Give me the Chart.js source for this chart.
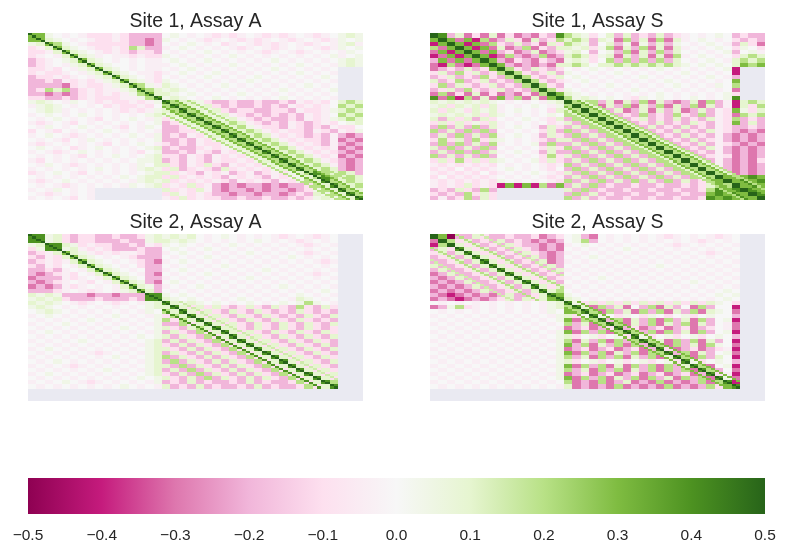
<!DOCTYPE html>
<html>
<head>
<meta charset="utf-8">
<script src="https://cdn.jsdelivr.net/npm/chart.js@4.4.0/dist/chart.umd.min.js"></script>
<style>
  body { margin: 0; background: #fff; width: 788px; height: 554px; overflow: hidden; position: relative; }
  canvas { position: absolute; }
</style>
</head>
<body>
<canvas id="p0" width="335" height="190" style="left:28px;top:10px"></canvas>
<canvas id="p1" width="335" height="190" style="left:430px;top:10px"></canvas>
<canvas id="p2" width="335" height="190" style="left:28px;top:211px"></canvas>
<canvas id="p3" width="335" height="190" style="left:430px;top:211px"></canvas>
<canvas id="cbar" width="788" height="76" style="left:0;top:478px"></canvas>
<script>
// correlation levels, one char per 2x2 block of variables
// e..a = -0.5..-0.1, '-' faint pink, '0' white, '+' faint green, 1..5 = 0.1..0.5, '.' = missing
const levels = { e: -0.5, d: -0.4, c: -0.3, b: -0.2, a: -0.1, '-': -0.04, '0': 0, '+': 0.04,
  '1': 0.1, '2': 0.2, '3': 0.3, '4': 0.4, '5': 0.5 };

const titles = ['Site 1, Assay A', 'Site 1, Assay S', 'Site 2, Assay A', 'Site 2, Assay S'];
const nVars = 80;

const site1AssayA = [
  "33+0-0-aaa-abbbb" + "0+0-0-a-a-0-a-a-0-a-0+1+",
  "331+0-0-aa-abbcb" + "+0-0-a-0-a-a-0-a-0-a-+0+",
  "+132+0-aaaaabbcb" + "0-0+0-0a-0-a-a-0-a-0-+1-",
  "a-131+0-aa-a21bb" + "-0+0-0-0-a-0-a-0-0-a-+0+",
  "aa-131+0-a-abaab" + "0-0-0+0-0-0-a-0-a-0-0-+0",
  "a-0-131+-0--a-aa" + "+0-0-0-0+0-0-0-0-0-0+-0+",
  "ba-0+131+0-0-0--" + "0+0-0+0-0-0-0+0-0-0-0+1+",
  "ba-0-+131+00-0--" + "-0+0-0-0+0-0-0-0+0-0-+1+",
  "aa-a0-+131+0-0--" + "0-0+0-0-0-0-0+0-0-0-0...",
  "a-aa-0-+131+0--a" + "-0+0-0+0-0-0-0-0+0-0-...",
  "baa-a-0-+131+0-a" + "0-0-0+0-0-0+0-0-0-0+0...",
  "bbab-a-a-+131+-a" + "+0-0-0-0-0+0-0-0-0-0-...",
  "bbbbca-aa-+132+-" + "1+0-0-0+0-0-0-0-0+0-0...",
  "ba212ba-a--+1321" + "+1+0-0-0-0-0-0+0-0-0+...",
  "bbcbcba-a-a-+231" + "1+0+0-0-0+0-0-0-0-0-0...",
  "aabbaba-aaa--+24" + "+1+0-0+0-0-0-0+0-0-0-...",
  "+1+0-+0-a-aa-a-+" + "4211+abbabbabbab-a-a0121",
  "-+1+0-0-0a-aa-a0" + "2421+1ababbabab-a-a-0212",
  "0+1+-0-0-0-a-a-+" + "12421+1abaabbaab-aa-+121",
  "-0+0-0+0-0-0-0+1" + "+12421+1-abababab-a-0212",
  "0-0+0-0-a0-0+0-+" + "a+12421+1-ababbab-a-+121",
  "-a-0-a0-0-0-0-0+" + "ba+1242121-abab-aba-a0+1",
  "0-+0-0+0-0-a0-+0" + "bba+124212+-aab-abab-aa0",
  "a0-a0-0-0+0-0-0-" + "bbaa+1242121-a-aab-ab-a+",
  "-0+0-a-0-0-0+0-+" + "bab-a+1242121-a-abab-bcb",
  "0-0-a0-+0-0-0-0+" + "bbab-a+1242121-a-aab-cbc",
  "-a-0-0-0-a0-0+0-" + "abab-aa+1242121-a-ab-bcb",
  "0+0-0a-0+0-0-0+1" + "babba-a-+1242121-a-a-cbc",
  "-0-a-0+0-0-0-a0+" + "bbab-ab-a+1242121-a-abcb",
  "0-0-0-a0-0+0-0+1" + "aab-ab-a-a+1242121-a-cbc",
  "-a0-0-0-0-0-0++1" + "bab-ab-aa-a+1242121-abcb",
  "0-+0-a-0-0-0-+01" + "1ab-a1ab-a-a+1242121-bcb",
  "-0-0-0-0+0-0-+1+" + "a1ba-ab1a-a-a+1242121bcb",
  "a-0+0-a0-0-0-0+1" + "1a-ab-a-ba-ba-a+1242121b",
  "0-0-0-0-0-0+0+11" + "a1a-a-ab-a-ab-a-+1242121",
  "-a-0+0-0-0-0-+1+" + "1a-a-a-ab-a-ab-a+2142121",
  "0-0-a-0-0-0-+0+1" + "a-a1a-bcbcbbcbcbba214212",
  "-0-+0-0-........" + "1a-a1-bcbbcbcbbcba+21421",
  "0-a-0-0-........" + "a1-a-abbcbbcbbcbab1+2142",
  "-0-0-a0-........" + "-a1a-aabbabbabbaba+1+214"
];

const site1AssayS = [
  "54b1cac1cacbcab4" + "21+a01b1bab1ba-0-0+0babb",
  "353c3d2cb1ac1ba2" + "121b1+c2b1c2c1-0+0-0abab",
  "d353d3c2ab1bac1a" + "21+b01b+c+b1b+0-0+0-b1ac",
  "2c353d3c1cb2cab1" + "1+1a+2c1b2c1c1-0-0+0a+0a",
  "c3d353c3bacb1cba" + "+10b0+b2c1b2b10-0-0+b0+-",
  "dc3d353dc2bcb2cb" + "121a+1c1b1c1c2-0+0-0a121",
  "b3c3c353bcabcabc" + "+1+a02b2b2b2b10-0+0-1212",
  "cd2cdc353bcbcbc1" + "12101121212121+0+0+01323",
  "cbab1ba352ab1aba" + "0-0+0-0-0-0+0-0-0-0+d...",
  "a1b2a1ba252aba1b" + "+0-0-0+0-0-0-0+0-0-0d...",
  "ba1bab2ab252aba1" + "0+0-0-0-0+0-0-0-0+0-b...",
  "1ba2ba1bab252aba" + "-0+0-0-0-0-0+0-0-0-03...",
  "a2b1aba1bab252ab" + "0-0-0+0-0-0-0+0-0-+02...",
  "ba1b2aba1bab252a" + "+0-0-0-0+0-0-0-0-0-0c...",
  "c2cac1cacbcac253" + "1+0-0-0-0-0+0-0-0-0+a...",
  "4c3d2c1c3b2c1c35" + "2+1+0+0-a+0+0-0+0-0+4...",
  "1+1+1+1+0-0-0-+1" + "5212b1c1b2c1bcb1c2b-d121",
  "+1a1+1a1-0-0+0-+" + "2521c1b2c1b2c1b2c1b-d1a2",
  "1a1+a1+1-0+0-0a1" + "12521b1cb1c1b1cb1b-a3+a1",
  "+1+1+1a1+0-0-0+0" + "212521bab2bab2ab2b-ac212",
  "1b1a1b1a0-0+0-a1" + "b212521ba1bab1bab1-a2bab",
  "a1a1a+a1-0-0-0a-" + "1b212521bab1bab1ab-a3b1b",
  "b2b1b2b1-0+0-b1a" + "b1b212521b1bab1bab-abbab",
  "2b1b2b2b0-0-0a1b" + "2b1b212521bab1bab1-abcbc",
  "b1b2b1b2-0+0-b1a" + "b2b1b212521bab1bab-bcbcb",
  "a2a1b2a1+0-0-ab1" + "1b2b1b212521bab1ba-bcbcb",
  "b2b2b1b2-0-0+b2b" + "b1b2b1b212521bab1b-abcbc",
  "1b2b1b2b0-0-0a1a" + "2b1b2b1b212521bab1-bcbcb",
  "b1b2b2b1-0+0-b1b" + "b2b1b2b1b212521bab-bcbcb",
  "2b1b1b2b0-0-0a2a" + "1b2b1b2b1b212521ba-acbcb",
  "a1a2a1a1+0-0+a1a" + "b1b2b1b2b1b212521b-bcbca",
  "-a-a-a-a0-0-0-a-" + "2b1b2b1b2b1b212521-bcbcb",
  "a-a0a-a-0+0-0-a0" + "b2b1b2b1b2b1b212521bcbcb",
  "-a-a-a0a-0-0+0-a" + "1b2b1b2b1b2b1b212521cbcb",
  "a0a-a-a-0-0-0-a-" + "b1b2b1b2b1b2b1b212532343",
  "-a-a-a-a+0-0-0-a" + "2b1b2b1b2b1b2b1ba2353434",
  "-a-a1a-ad3d3d2c3" + "b1b2babbabbabbaba1325343",
  "bab1ab2b........" + "1b2babbabbabbabba2434543",
  "abab2a1a........" + "b2b1babbabbabbabb3434354",
  "b-ba2b1a........" + "2b1babbabbabbabba4343435"
];

const site2AssayA = [
  "44+1abaabbabba+1" + "+1+10-0+0-0-0-a-0-a-0...",
  "44+1abaabbbabb+1" + "1+1+0-0-0-0+0-0-a-0-0...",
  "+1441+a-aabbab-a" + "+0+0-0-0+0-0-0-0-a-0-...",
  "a+44+1-a-abbbabb" + "0+0-0+0-0-0-0-0-0-0-0...",
  "ba-131+-a-a--abb" + "-0+0-0-0-0+0-0-0-a-0-...",
  "ab-a131+0-0-abbb" + "0-0-0+0-0-0-0-0+0-0-0...",
  "ba-a-131+0-0-abc" + "-0+0-0-0-0-0-0-0-0-a-...",
  "ab-a0-131+0-0abb" + "0-0-0-0+0-0-0-0-0-0-0...",
  "bbab-0-131+0-0bb" + "-0+0-0-0-0-0+0-0-0-0-...",
  "bcba-a0-131+0-bc" + "0-0-0+0-0-0-0-0-0-a-0...",
  "cbbb-a-0-131+0bb" + "-0-0-0-0-0+0-0-0-0-0-...",
  "bcba-0-a0-131+bc" + "0+0-0-0-0-0-0-0-0-0-0...",
  "cbcb-a-0-0-131+b" + "-0-0+0-0-0-0-0+0-0-0-...",
  "bbba-0-a-0-+131b" + "0-0-0-0-0-0-0-0-0-0+0...",
  "1+1+bbbcbbcbbb44" + "+0+0-0-0-0-0-0-0+0-0-...",
  "+1+1abbbabbbab44" + "1+0+0-0-0+0-0-0-1+0-0...",
  "1+1+0-a-0-a-0-+1" + "41+1+0+0-0+0-0+0+2+0-...",
  "+1+0-0-0-0-0-0+1" + "141a1a1aba1ab1ab2ab1a...",
  "0+1+0-0-0-0-0-+0" + "2141a1ab1ab1abab1abab...",
  "-0+0-0-0-0+0-0-+" + "a2141a1ab1ab1abab1ab1...",
  "0-0-0-0+0-0-0-0+" + "2a2141a1ab1ab1ab1abab...",
  "-0-0+0-0-0-0-0-+" + "bb2a141a1ab1ab1ab1ab1...",
  "0-0-0-0-0-0+0-0+" + "1ab121411ab1ab1ab1aba...",
  "-0+0-0-0-0-0-0-+" + "b1ab2a141a1ab1ab1ab1a...",
  "0-0-0-0-0-0-0+0+" + "1b1ab2a141a1ab1ab1ab1...",
  "-0-0-0+0-0-0-0+1" + "b1b1ab2a141a1ab1ab1ab...",
  "0-0-0-0-0-0-0-+1" + "ab1b1ab2a141a1ab1ab1b...",
  "-0+0-0-0-0-0-0+1" + "1ab1b1ab2a141a1ab1ab1...",
  "0-0-0-0-a-0-0-+1" + "b1ab1b1ab2a141a1ab1ab...",
  "-0-0-0-0-0+0-0+1" + "2b1ab1b1ab2a141a1ab1a...",
  "0-0+0-0-0-0-0-+1" + "b2b1ab1b1ab2a141a1ab1...",
  "-0-0-a-0-0-0-0+1" + "1b2b1ab1b1ab2a141a1ab...",
  "0-0-0-0-0+0-0-+1" + "b1b2b1ab1b1ab2a141a1a...",
  "-0+0-0-0-0-0-0+1" + "ab1b2b1ab1b1ab2a141a1...",
  "0-0-0-0-0-0-0+0+" + "1ab1b2b1ab1b1ab2a141a...",
  "-0-0+0-a-0-0-0-+" + "bab1babbab1babba2a142...",
  "0-0-0-0-0-0+0-0-" + "1bab1babbab1babba2a14...",
  "................" + "........................",
  "................" + "........................",
  "................" + "........................"
];

const site2AssayS = [
  "53ebb1abbabbacba" + "0+bc0-0-0-0-a-0-0-a-0...",
  "c52a1bab1babcbcb" + "0+2b0-0-0-0-0-0-a-0-0...",
  "d251a1bab1abbcbc" + "-0+0-0-0-0-0-a-0-0-0-...",
  "b1a41a1bab1abcbc" + "0-0-0-0+0-0-0-0-0-0-0...",
  "a1b141a1bab1abcb" + "-0-0-0-0-0-0-0-0-a-0-...",
  "ba1b141a1bab1bcb" + "0-0+0-0-0-0-0-0-0-0-0...",
  "bba1b141a1bab1cb" + "-0-0-0-0-0-0-0-0-0-0-...",
  "1bba1b141a1bab1b" + "0-0-0-0-0-0+0-0-0-0-0...",
  "b1bba1b141a1bab1" + "-0-0-0-0-0-0-0-0-0-0-...",
  "cb1bba1b141a1bab" + "0-0-0-0-0-0-0-0-0-0-0...",
  "bcb1bba1b141a1ba" + "-0-0+0-0-0-0-0-0-0-0-...",
  "cbcb1bba1b141a1b" + "0-0-0-0-0-0-0-0+0-0-0...",
  "bcbcb1bba1b141a1" + "-0-0-0-0-0-0-0-0-0-0-...",
  "cbcbcb1bba1b1412" + "0-0-0-0-0-0-0-0-0-0+0...",
  "bcdcbcbcb1bba143" + "+0-0-0-0-0-0-0-0-0+0+...",
  "cbcdcbcba1b1a134" + "1+0-0-0-0-0-0-0-0-0+0...",
  "0-0-0-0-0-0-0-+1" + "4+a1a1a1a1a1a1a1a1+0a...",
  "cb+2a-0-0-0-0-+1" + "241c2b1c0b2c1b0c2b00d...",
  "0-0-0-0-0-0-0-+0" + "3242c2b1c2b2c1b2c1+0c...",
  "-0-0-0-0-0-0-0-+" + "1a+4+0a+0a+0a0+a0+00b...",
  "0-0-0-0-0-0-0-0+" + "3c224b2c1b2c2b1c2b0+d...",
  "-0-0-0-0-0-0-0-0" + "2b1c242c1b2c1b2c1b0-c...",
  "0-0-0-0-0-0-0-0-" + "cbacba4bacbacbacba0-c...",
  "-0-0-0-0-0-0-0-+" + "3c2b2c242b2c2b1c2b0+d...",
  "0-0-0-0-0-0-0-0+" + "1a0+a0+a4+a0+a0+a0+0b...",
  "-0-0-0-0-0-0-0-+" + "2c1b2c2b2421c2b2c1b0d...",
  "0-0-0-0-0-0-0-0+" + "3b2c1b2c2b42c2b1c2+0c...",
  "-0-0-0-0-0-0-0-+" + "cbacbacbacb4acbacba-d...",
  "0-0-0-0-0-0-0-0+" + "3c2b2c1b2c224b2c1b0+c...",
  "-0-0-0-0-0-0-0-+" + "2b1c2b2c1b2c142c2b10d...",
  "0-0-0-0-0-0-0-0+" + "1a0+a0+a0+a0+a4+a0+0b...",
  "-0-0-0-0-0-0-0-+" + "3c2b2c1c2b2c2b142c0+d...",
  "0-0-0-0-0-0-0-0+" + "2b1c2b2c1b2c2b2c42b0c...",
  "-0-0-0-0-0-0-0-+" + "cbacbacbacbacbacb4a-d...",
  "0-0-0-0-0-0-0-0+" + "3c2b2c1b2c2b1c2b2c4+c...",
  "-0-0-0-0-0-0-0-0" + "2cbc2cb1cbc2cbcb2c24d...",
  "0-0-0-0-0-0-0-0-" + "1cbcbc2cbcbc2cbcb2a34...",
  "................" + "........................",
  "................" + "........................",
  "................" + "........................"
];

// thin lines at full variable resolution: [offset, firstRow, lastRow, value], cell = (row, row + offset)
const site1AssayA_bands = [[0, 0, 79, 1], [3, 32, 76, 0.3], [-3, 35, 79, 0.3], [6, 32, 73, 0.2], [-6, 38, 79, 0.2]];
const site1AssayS_bands = [[0, 0, 79, 1], [3, 32, 76, 0.3], [-3, 35, 79, 0.3], [5, 32, 74, 0.2], [-5, 37, 79, 0.2]];
const site2AssayA_bands = [[0, 0, 73, 1], [-4, 36, 73, 0.4], [4, 32, 69, 0.15]];
const site2AssayS_bands = [[0, 0, 73, 1], [6, 0, 25, 0.2], [-6, 6, 31, 0.2], [12, 0, 19, 0.15], [-12, 12, 31, 0.15],
  [3, 32, 70, 0.3], [-3, 35, 73, 0.3]];

const colorbarTicks = [-0.5, -0.4, -0.3, -0.2, -0.1, 0, 0.1, 0.2, 0.3, 0.4, 0.5];

const PIYG = ['#8e0152', '#c51b7d', '#de77ae', '#f1b6da', '#fde0ef', '#f7f7f7',
  '#e6f5d0', '#b8e186', '#7fbc41', '#4d9221', '#276419'];
const NAN_COLOR = '#eaeaf2';
const TEXT = '#262626';
const FONT = '"Liberation Sans", Arial, sans-serif';

function hex(c) { return [1, 3, 5].map(i => parseInt(c.slice(i, i + 2), 16)); }
const stops = PIYG.map(hex);

function piyg(v) {
  const t = (Math.max(-0.5, Math.min(0.5, v)) + 0.5) * 10;
  const i = Math.min(9, Math.floor(t));
  const f = t - i;
  const a = stops[i], b = stops[i + 1];
  const rgb = a.map((x, k) => Math.round(x + (b[k] - x) * f));
  return 'rgb(' + rgb.join(',') + ')';
}

function heatmap(rows, bands) {
  return {
    id: 'heatmap',
    beforeDatasetsDraw(chart) {
      const { ctx, scales: { x, y } } = chart;
      const px = v => Math.round(x.getPixelForValue(v));
      const py = v => Math.round(y.getPixelForValue(v));
      const span = nVars / rows.length;
      ctx.save();
      rows.forEach((row, r) => {
        for (let c = 0; c < row.length; c++) {
          const ch = row[c];
          ctx.fillStyle = ch === '.' ? NAN_COLOR : piyg(levels[ch] ?? 0);
          const x0 = px(c * span), x1 = px((c + 1) * span);
          const y0 = py(r * span), y1 = py((r + 1) * span);
          ctx.fillRect(x0, y0, x1 - x0, y1 - y0);
        }
      });
      bands.forEach(([off, from, to, v]) => {
        ctx.fillStyle = piyg(v);
        for (let i = from; i <= to; i++) {
          const c = i + off;
          const x0 = px(c), x1 = px(c + 1), y0 = py(i), y1 = py(i + 1);
          ctx.fillRect(x0, y0, x1 - x0, y1 - y0);
        }
      });
      ctx.restore();
    }
  };
}

const panels = [
  [site1AssayA, site1AssayA_bands],
  [site1AssayS, site1AssayS_bands],
  [site2AssayA, site2AssayA_bands],
  [site2AssayS, site2AssayS_bands]
];

panels.forEach(([rows, bands], k) => {
  new Chart(document.getElementById('p' + k), {
    type: 'scatter',
    data: { datasets: [] },
    options: {
      responsive: false,
      animation: false,
      events: [],
      scales: {
        x: { type: 'linear', min: 0, max: nVars, display: false },
        y: { type: 'linear', min: 0, max: nVars, reverse: true, display: false }
      },
      plugins: {
        legend: { display: false },
        tooltip: { enabled: false },
        title: {
          display: true, text: titles[k], color: TEXT,
          font: { family: FONT, size: 19.5, weight: 'normal' },
          padding: { top: 0, bottom: 0 }
        }
      }
    },
    plugins: [heatmap(rows, bands)]
  });
});

function tickLabel(v) {
  if (Math.abs(v) < 1e-9) return '0.0';
  return v.toFixed(1).replace('-', '\u2212');
}

new Chart(document.getElementById('cbar'), {
  type: 'bar',
  data: {
    labels: [''],
    datasets: [{
      data: [[colorbarTicks[0], colorbarTicks[colorbarTicks.length - 1]]],
      backgroundColor(ctx) {
        const chart = ctx.chart;
        if (!chart.chartArea) return PIYG[5];
        const xs = chart.scales.x;
        const g = chart.ctx.createLinearGradient(xs.getPixelForValue(-0.5), 0, xs.getPixelForValue(0.5), 0);
        PIYG.forEach((c, i) => g.addColorStop(i / 10, c));
        return g;
      },
      borderWidth: 0,
      borderSkipped: false,
      barPercentage: 1,
      categoryPercentage: 1
    }]
  },
  options: {
    indexAxis: 'y',
    responsive: false,
    animation: false,
    events: [],
    layout: { padding: { left: 28, right: 23, top: 0, bottom: 0 } },
    scales: {
      x: {
        type: 'linear', min: -0.5, max: 0.5,
        grid: { display: false, drawTicks: false },
        border: { display: false },
        afterBuildTicks(scale) { scale.ticks = colorbarTicks.map(v => ({ value: v })); },
        afterFit(scale) { scale.height = 40; },
        ticks: {
          padding: 12, color: TEXT, autoSkip: false, maxRotation: 0,
          font: { family: FONT, size: 15.5 },
          callback: v => tickLabel(v)
        }
      },
      y: { display: false }
    },
    plugins: { legend: { display: false }, tooltip: { enabled: false } }
  }
});
</script>
</body>
</html>
